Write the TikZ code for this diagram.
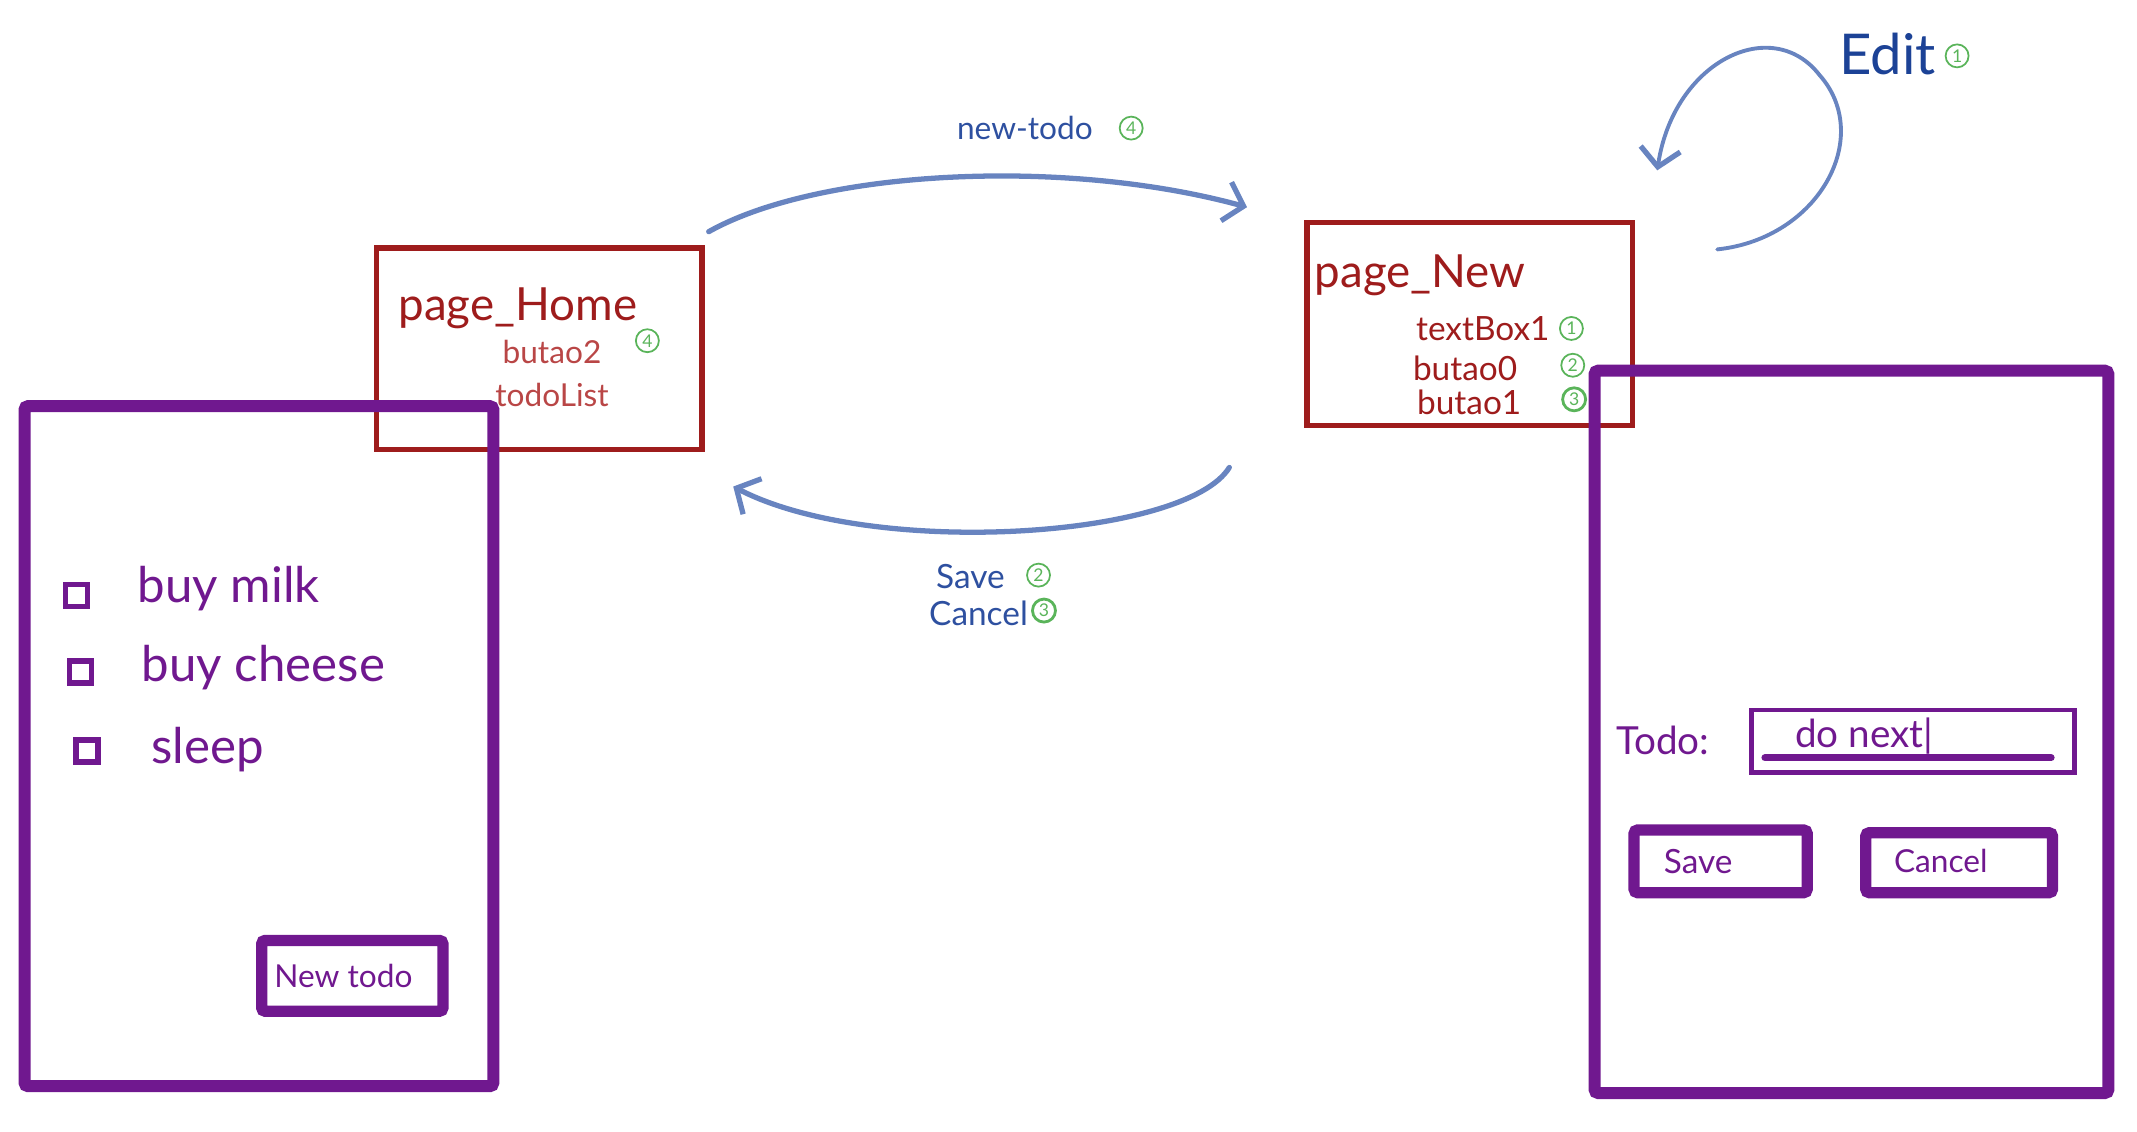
\documentclass[tikz,border=0pt]{standalone}
\usepackage{fontspec}
\setmainfont{Lato}
\usepackage{xcolor}
\usetikzlibrary{arrows.meta,fit,positioning}
\definecolor{boxred}{RGB}{158,28,28}
\definecolor{boxredlight}{RGB}{185,70,70}
\definecolor{phonepurple}{RGB}{112,24,143}
\definecolor{flowblue}{RGB}{104,132,192}
\definecolor{labelblue}{RGB}{46,80,160}
\definecolor{editblue}{RGB}{28,66,150}
\definecolor{numgreen}{RGB}{90,180,90}
\tikzset{
  pagebox/.style={draw=boxred,line width=1.5pt,inner sep=0pt},
  phone/.style={draw=phonepurple,line width=3.4pt,rounded corners=1pt,inner sep=0pt},
  btn/.style={draw=phonepurple,line width=3.2pt,rounded corners=1pt,inner sep=0pt},
  field/.style={draw=phonepurple,line width=1.3pt,inner sep=0pt},
  chk/.style={draw=phonepurple,line width=1.6pt,minimum size=2.2mm,inner sep=0pt},
  circnum/.style={circle,draw=numgreen,text=numgreen,line width=0.5pt,inner sep=0pt,
    minimum size=2.3mm,font=\fontsize{5}{5}\selectfont},
  flow/.style={draw=flowblue,line width=1.5pt,line cap=round,
    -{Straight Barb[length=1.8mm,width=4mm,line width=1.5pt]}},
}
\begin{document}
\begin{tikzpicture}[x=0.13629mm,y=-0.13629mm]
\useasboundingbox (0,0) rectangle (1568,830);
% pages
\node[pagebox,fit={(276,182) (515,330)}] (home) {};
\node[pagebox,fit={(959,163) (1198,312)}] (new) {};
\node[text=boxred,font=\fontsize{13}{15}\selectfont] (homeT) at (380,226) {page\_Home};
\node[text=boxredlight,font=\fontsize{9}{10}\selectfont] (homeB) at (405,258) {butao2};
\node[circnum] (homeBn) at (475,250) {4};
\node[text=boxredlight,font=\fontsize{9}{10}\selectfont] (homeL) at (405,290) {todoList};
\node[text=boxred,font=\fontsize{13}{15}\selectfont] (newT) at (1042,202) {page\_New};
\node[text=boxred,font=\fontsize{9.5}{11}\selectfont] (newTb) at (1088,241) {textBox1};
\node[circnum] (newTbn) at (1153,241) {1};
\node[text=boxred,font=\fontsize{9.5}{11}\selectfont] (newB0) at (1075,270) {butao0};
\node[circnum] (newB0n) at (1154,268) {2};
\node[text=boxred,font=\fontsize{9.5}{11}\selectfont] (newB1) at (1078,295) {butao1};
\node[circnum,line width=0.8pt] (newB1n) at (1155,293) {3};
% home screen
\node[phone,fit={(18,298) (362,797)}] (scrHome) {};
\node[chk] (c1) at (56,437) {};
\node[chk] (c2) at (59,493) {};
\node[chk] (c3) at (64,551) {};
\node[anchor=west,text=phonepurple,font=\fontsize{14}{16}\selectfont] (t1) at (92,432) {buy milk};
\node[anchor=west,text=phonepurple,font=\fontsize{14}{16}\selectfont] (t2) at (95,490) {buy cheese};
\node[anchor=west,text=phonepurple,font=\fontsize{14}{16}\selectfont] (t3) at (102,550) {sleep};
\node[btn,fit={(192,690) (325,742)}] (bNew) {};
\node[text=phonepurple,font=\fontsize{9}{11}\selectfont] at (252,716) {New todo};
% new screen
\node[phone,fit={(1170,272) (1547,802)}] (scrNew) {};
\node[text=phonepurple,font=\fontsize{11}{13}\selectfont] (lTodo) at (1220,543) {Todo:};
\node[field,fit={(1285,521) (1522,567)}] (fTodo) {};
\node[anchor=west,text=phonepurple,font=\fontsize{11}{13}\selectfont] (fText) at (1308,540) {do\ next|};
\coordinate (uL) at (1295,556);
\coordinate (uR) at (1505,556);
\draw[phonepurple,line width=2pt,line cap=round] (uL) -- (uR);
\node[btn,fit={(1199,609) (1326,655)}] (bSave) {};
\node[text=phonepurple,font=\fontsize{9.5}{11}\selectfont] at (1246,632) {Save};
\node[btn,fit={(1369,611) (1506,655)}] (bCancel) {};
\node[text=phonepurple,font=\fontsize{9}{11}\selectfont] at (1424,632) {Cancel};
% transitions
\coordinate (goS) at (520,170);
\coordinate (goE) at (915,152);
\coordinate (backS) at (902,343);
\coordinate (backE) at (538,357);
\coordinate (editS) at (1260,183);
\coordinate (editM) at (1335,55);
\coordinate (editE) at (1216,125);
\draw[flow] (goS) .. controls (600,125) and (780,115) .. (goE);
\draw[flow] (backS) .. controls (870,395) and (640,410) .. (backE);
\draw[flow,line width=1.1pt] (editS) .. controls (1335,175) and (1375,100) .. (editM)
  .. controls (1300,10) and (1228,45) .. (editE);
\node[text=labelblue,font=\fontsize{9}{10}\selectfont] (lNew) at (752,94) {new-todo};
\node[circnum] (lNewn) at (830,94) {4};
\node[text=labelblue,font=\fontsize{9.5}{10}\selectfont] (lSave) at (712,423) {Save};
\node[circnum] (lSaven) at (762,422) {2};
\node[text=labelblue,font=\fontsize{9.5}{10}\selectfont] (lCancel) at (718,450) {Cancel};
\node[circnum,line width=0.8pt] (lCanceln) at (766,448) {3};
\node[text=editblue,font=\fontsize{16}{18}\selectfont] (lEdit) at (1385,40) {Edit};
\node[circnum] (lEditn) at (1436,41) {1};
\end{tikzpicture}
\end{document}
